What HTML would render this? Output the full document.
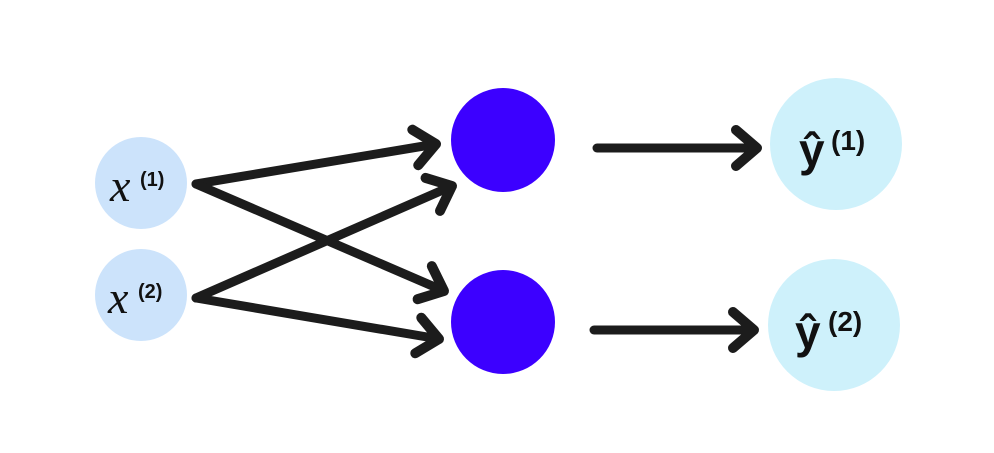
<!DOCTYPE html>
<html><head><meta charset="utf-8"><style>
html,body{margin:0;padding:0;background:#fff;}
svg{display:block;}
</style></head><body>
<svg width="994" height="453" viewBox="0 0 994 453" xmlns="http://www.w3.org/2000/svg">
<defs>
<marker id="a" markerUnits="userSpaceOnUse" markerWidth="50" markerHeight="50" refX="30" refY="20" orient="auto" overflow="visible">
<path d="M9,2 L30,20 L9,38" fill="none" stroke="#1c1c1c" stroke-width="10" stroke-linecap="round" stroke-linejoin="round"/>
</marker>
</defs>
<circle cx="141" cy="183" r="46" fill="#cce3fb"/>
<circle cx="141" cy="295" r="46" fill="#cce3fb"/>
<circle cx="503" cy="140" r="52" fill="#3c00ff"/>
<circle cx="503" cy="322" r="52" fill="#3c00ff"/>
<circle cx="836" cy="144" r="66" fill="#cef1fb"/>
<circle cx="834" cy="325" r="66" fill="#cef1fb"/>
<g stroke="#1c1c1c" stroke-width="9" stroke-linecap="round" fill="none">
<line x1="196" y1="184" x2="436" y2="144" marker-end="url(#a)"/>
<line x1="196" y1="184" x2="444" y2="291" marker-end="url(#a)"/>
<line x1="196" y1="298" x2="452" y2="186" marker-end="url(#a)"/>
<line x1="196" y1="298" x2="439" y2="339" marker-end="url(#a)"/>
<line x1="597" y1="148" x2="757" y2="148" marker-end="url(#a)"/>
<line x1="594" y1="330" x2="754" y2="330" marker-end="url(#a)"/>
</g>
<g fill="#111">
<text x="110" y="201" font-family="Liberation Serif, serif" font-style="italic" font-size="46">x</text>
<text x="140" y="186" font-family="Liberation Sans, sans-serif" font-weight="bold" font-size="20">(1)</text>
<text x="108" y="313" font-family="Liberation Serif, serif" font-style="italic" font-size="46">x</text>
<text x="138" y="298" font-family="Liberation Sans, sans-serif" font-weight="bold" font-size="20">(2)</text>
<text x="799" y="166" font-family="Liberation Sans, sans-serif" font-weight="bold" font-size="46">ŷ</text>
<text x="831" y="150" font-family="Liberation Sans, sans-serif" font-weight="bold" font-size="28">(1)</text>
<text x="795" y="348" font-family="Liberation Sans, sans-serif" font-weight="bold" font-size="46">ŷ</text>
<text x="828" y="331" font-family="Liberation Sans, sans-serif" font-weight="bold" font-size="28">(2)</text>
</g>
</svg>
</body></html>
